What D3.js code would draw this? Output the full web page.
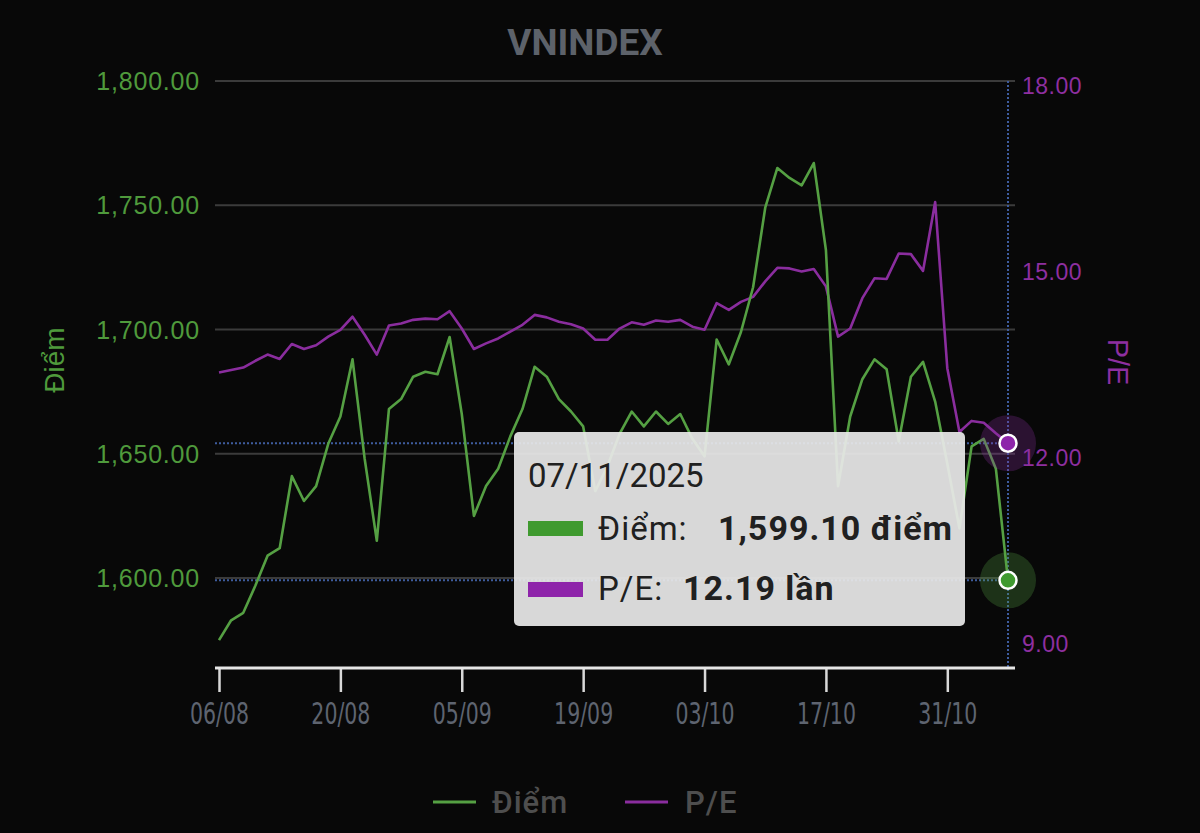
<!DOCTYPE html>
<html><head><meta charset="utf-8">
<script src="https://cdn.jsdelivr.net/npm/d3@7"></script>
<style>html,body{margin:0;padding:0;background:#080808;}svg{display:block}</style>
</head><body><svg id="c" width="1200" height="833"></svg>
<script>
// ---- data ----
const dates = [
 "2025-08-06","2025-08-07","2025-08-08","2025-08-11","2025-08-12","2025-08-13","2025-08-14","2025-08-15",
 "2025-08-18","2025-08-19","2025-08-20","2025-08-21","2025-08-22","2025-08-25","2025-08-26","2025-08-27",
 "2025-08-28","2025-08-29","2025-09-03","2025-09-04","2025-09-05","2025-09-08","2025-09-09","2025-09-10",
 "2025-09-11","2025-09-12","2025-09-15","2025-09-16","2025-09-17","2025-09-18","2025-09-19","2025-09-22",
 "2025-09-23","2025-09-24","2025-09-25","2025-09-26","2025-09-29","2025-09-30","2025-10-01","2025-10-02",
 "2025-10-03","2025-10-06","2025-10-07","2025-10-08","2025-10-09","2025-10-10","2025-10-13","2025-10-14",
 "2025-10-15","2025-10-16","2025-10-17","2025-10-20","2025-10-21","2025-10-22","2025-10-23","2025-10-24",
 "2025-10-27","2025-10-28","2025-10-29","2025-10-30","2025-10-31","2025-11-03","2025-11-04","2025-11-05",
 "2025-11-06","2025-11-07"];
const diem = [
 1575,1583,1586,1597,1609,1612,1641,1631,1637,1654,1665,1688,1648,1615,1668,1672,
 1681,1683,1682,1697,1666,1625,1637,1644,1657,1668,1685,1681,1672,1667,1661,1635,
 1645,1658,1667,1661,1667,1662,1666,1656,1649,1696,1686,1699,1717,1749,1765,1761,
 1758,1767,1732,1637,1665,1680,1688,1684,1655,1681,1687,1671,1646,1620,1653,1656,
 1644,1599.10];
const pe = [
 13.33,13.37,13.41,13.52,13.62,13.55,13.79,13.71,13.77,13.91,14.02,14.23,13.94,13.62,14.09,14.12,
 14.18,14.20,14.19,14.32,14.04,13.71,13.80,13.88,13.99,14.10,14.26,14.22,14.15,14.11,14.04,13.86,
 13.86,14.04,14.14,14.10,14.17,14.15,14.18,14.07,14.02,14.45,14.34,14.47,14.55,14.80,15.02,15.01,
 14.96,15.00,14.72,13.91,14.04,14.53,14.85,14.84,15.25,15.24,14.97,16.08,13.40,12.37,12.55,12.52,
 12.35,12.19];
const leftTicks = [1600,1650,1700,1750,1800];
const rightTicks = [9,12,15,18];
const xTickDates = ["2025-08-06","2025-08-20","2025-09-05","2025-09-19","2025-10-03","2025-10-17","2025-10-31"];
const seriesNames = ["Điểm","P/E"];
const titleText = "VNINDEX";

// ---- style ----
const GREEN = "#55a043", PURPLE = "#8a2d9e";
const GREEN_T = "#4f9a3c", PURPLE_T = "#8e2fa0";
const svg = d3.select("#c");
const plotTop = 81, plotBottom = 668, plotL = 215, plotR = 1015;

const x = d3.scalePoint().domain(dates).range([219, 1008]);
const yL = d3.scaleLinear().domain([1563.8, 1800]).range([plotBottom, plotTop]);
const yR = d3.scaleLinear().domain([8.565, 18]).range([plotBottom, 83]);

// title
svg.append("text").attr("x", 585).attr("y", 55).attr("text-anchor","middle")
  .attr("font-family","Roboto, sans-serif").attr("font-weight","bold").attr("font-size",37)
  .attr("fill","#5d626a").text(titleText);

// grid
svg.append("g").selectAll("line").data(leftTicks).join("line")
  .attr("x1", plotL).attr("x2", plotR).attr("y1", d=>yL(d)).attr("y2", d=>yL(d))
  .attr("stroke","#3b3b3b").attr("stroke-width",2);

// left axis labels
const fmtL = d3.format(",.2f");
svg.append("g").selectAll("text").data(leftTicks).join("text")
  .attr("x", 200).attr("y", d=>yL(d)).attr("dy","0.36em").attr("text-anchor","end")
  .attr("font-family","'Liberation Sans', Arial, sans-serif").attr("font-size",25)
  .attr("letter-spacing",0.8).attr("fill",GREEN_T).text(d=>fmtL(d));
svg.append("text").attr("transform","translate(54,360) rotate(-90)").attr("text-anchor","middle")
  .attr("dy","0.36em").attr("font-family","'Liberation Sans', Arial, sans-serif").attr("font-size",28)
  .attr("fill",GREEN_T).text(seriesNames[0]);

// right axis labels
const fmtR = d3.format(".2f");
svg.append("g").selectAll("text").data(rightTicks).join("text")
  .attr("x", 1022).attr("y", d=>yR(d)+3).attr("dy","0.36em").attr("text-anchor","start")
  .attr("font-family","'Liberation Sans', Arial, sans-serif").attr("font-size",23)
  .attr("letter-spacing",0.5).attr("fill",PURPLE_T).text(d=>fmtR(d));
svg.append("text").attr("transform","translate(1118,362) rotate(90)").attr("text-anchor","middle")
  .attr("dy","0.36em").attr("font-family","'Liberation Sans', Arial, sans-serif").attr("font-size",29)
  .attr("fill",PURPLE_T).text(seriesNames[1]);

// crosshair
const li = dates.length - 1;
const cx = x(dates[li]);
const ch = svg.append("g").attr("stroke","#3e5c9e").attr("stroke-width",2).attr("stroke-dasharray","2,2");
ch.append("line").attr("x1",cx).attr("x2",cx).attr("y1",plotTop).attr("y2",plotBottom);
ch.append("line").attr("x1",plotL).attr("x2",cx).attr("y1",yR(pe[li])).attr("y2",yR(pe[li]));
ch.append("line").attr("x1",plotL).attr("x2",cx).attr("y1",yL(diem[li])).attr("y2",yL(diem[li]));

// lines
const lineL = d3.line().x((d,i)=>x(dates[i])).y(d=>yL(d));
const lineR = d3.line().x((d,i)=>x(dates[i])).y(d=>yR(d));
svg.append("path").datum(pe).attr("d",lineR).attr("fill","none").attr("stroke",PURPLE).attr("stroke-width",2.6).attr("stroke-linejoin","round");
svg.append("path").datum(diem).attr("d",lineL).attr("fill","none").attr("stroke",GREEN).attr("stroke-width",2.6).attr("stroke-linejoin","round");

// x axis
const fmtD = s => s.slice(8,10) + "/" + s.slice(5,7);
const xa = svg.append("g").attr("transform",`translate(0,${plotBottom})`)
  .call(d3.axisBottom(x).tickValues(xTickDates).tickSize(24).tickPadding(11).tickFormat(fmtD));
xa.select(".domain").remove();
xa.selectAll(".tick line").attr("stroke","#d8d8d8").attr("stroke-width",2.5);
xa.selectAll(".tick text").attr("fill","#5e6470").attr("font-size",30)
  .attr("font-family","'Liberation Sans Narrow','Arial Narrow','DejaVu Sans Condensed',sans-serif")
  .attr("transform","scale(0.76,1)");
svg.append("line").attr("x1",plotL).attr("x2",plotR).attr("y1",plotBottom).attr("y2",plotBottom)
  .attr("stroke","#e6e6e6").attr("stroke-width",3);

// highlighted points
[[yR(pe[li]),PURPLE,"#8e24aa"],[yL(diem[li]),GREEN,"#3f9a2f"]].forEach(([cy,c,f])=>{
  svg.append("circle").attr("cx",cx).attr("cy",cy).attr("r",28).attr("fill",c).attr("opacity",0.28);
  svg.append("circle").attr("cx",cx).attr("cy",cy).attr("r",8.5).attr("fill",f).attr("stroke","#ffffff").attr("stroke-width",2.5);
});

// tooltip
const tt = svg.append("g");
tt.append("rect").attr("x",514).attr("y",432).attr("width",451).attr("height",194).attr("rx",5)
  .attr("fill","rgb(232,232,232)").attr("fill-opacity",0.93);
const p = dates[li].split("-");
tt.append("text").attr("x",528).attr("y",487).attr("font-family","Roboto, sans-serif").attr("font-size",33)
  .attr("fill","#202020").text(`${p[2]}/${p[1]}/${p[0]}`);
tt.append("rect").attr("x",528).attr("y",521).attr("width",55).attr("height",15).attr("fill","#3f9a2f");
tt.append("text").attr("x",598).attr("y",540).attr("font-family","Roboto, sans-serif").attr("font-size",33)
  .attr("letter-spacing",1).attr("fill","#202020").text(seriesNames[0] + ":");
tt.append("text").attr("x",718).attr("y",540).attr("font-family","Roboto, sans-serif").attr("font-size",34)
  .attr("letter-spacing",1).attr("font-weight","bold").attr("fill","#202020").text(fmtL(diem[li]) + " điểm");
tt.append("rect").attr("x",528).attr("y",582).attr("width",55).attr("height",15).attr("fill","#8e24aa");
tt.append("text").attr("x",598).attr("y",600).attr("font-family","Roboto, sans-serif").attr("font-size",33)
  .attr("letter-spacing",1).attr("fill","#202020").text(seriesNames[1] + ":");
tt.append("text").attr("x",683).attr("y",600).attr("font-family","Roboto, sans-serif").attr("font-size",34)
  .attr("letter-spacing",1).attr("font-weight","bold").attr("fill","#202020").text(fmtR(pe[li]) + " lần");

// legend
const lg = svg.append("g");
[[433,GREEN,seriesNames[0],492],[625,PURPLE,seriesNames[1],685]].forEach(([lx,c,t,tx])=>{
  lg.append("line").attr("x1",lx).attr("x2",lx+43).attr("y1",802).attr("y2",802).attr("stroke",c).attr("stroke-width",3);
  lg.append("text").attr("x",tx).attr("y",813).attr("font-family","Roboto, sans-serif").attr("font-weight",500)
    .attr("font-size",31).attr("letter-spacing",1).attr("fill","#4e4e4e").text(t);
});
</script></body></html>
